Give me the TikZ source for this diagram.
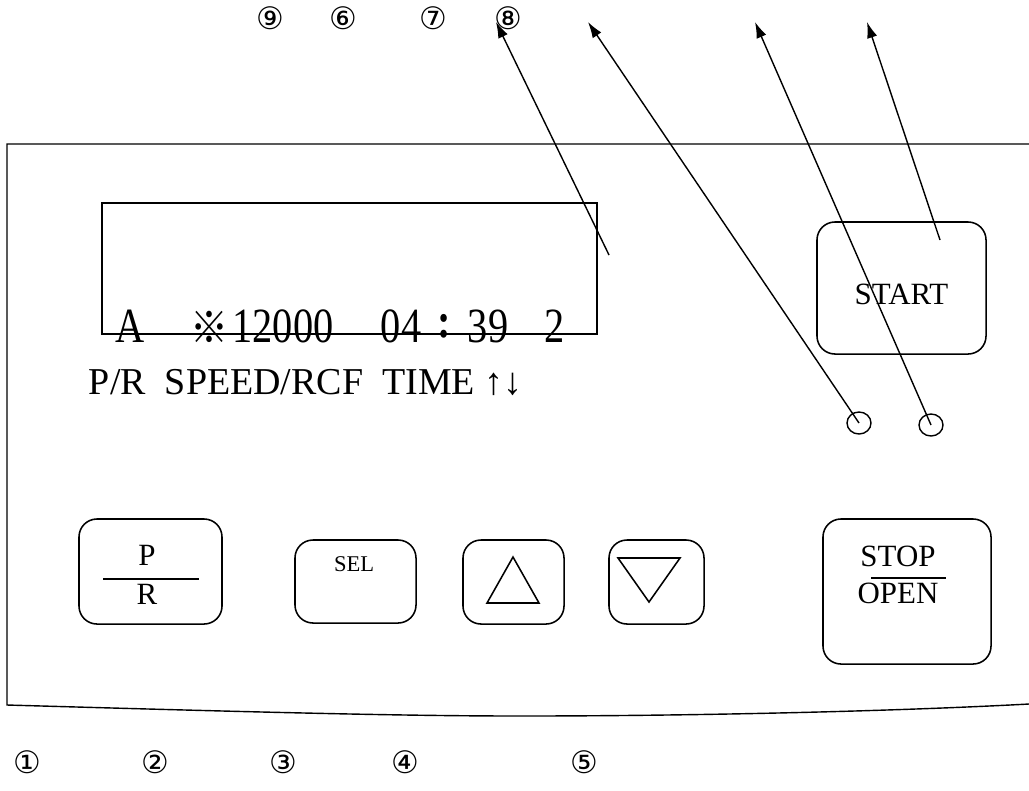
\documentclass[tikz,border=0pt]{standalone}
\usepackage{fontspec}
\setmainfont{Liberation Serif}
\newfontfamily\symfont{DejaVu Sans}
\newfontfamily\cjkfont{Noto Sans CJK JP}
\usetikzlibrary{arrows.meta,positioning,shapes.geometric}
\newcommand{\lcd}[1]{\scalebox{0.82}[1]{\fontsize{35}{35}\selectfont #1}}

\begin{document}
\begin{tikzpicture}[x=0.025cm, y=-0.025cm,
  key/.style={draw, line width=1.1pt, rounded corners=0.45cm, inner sep=0, font=\fontsize{22}{24}\selectfont},
  led/.style={draw, line width=1pt, ellipse, inner sep=0, minimum width=0.6cm, minimum height=0.55cm},
  num/.style={font=\symfont\fontsize{22}{22}\selectfont},
  arr/.style={-{Latex[length=4mm,width=2.6mm]}, line width=1pt}
]
\useasboundingbox (0,0) rectangle (1029,790);

% housing
\draw[line width=1pt] (1029,144) -- (7,144) -- (7,705)
  .. controls (250,712) and (400,716) .. (520,716)
  .. controls (700,716) and (900,711) .. (1029,704);

% display
\node[draw, line width=1.3pt, inner sep=0, minimum width=12.375cm, minimum height=3.275cm] (lcd) at (349.5,268.5) {};
\node (lcdA) at (130,326) {\lcd{A}};
\node (lcdmark) at (209,327) {\scalebox{1}[1.15]{\cjkfont\fontsize{27}{27}\selectfont ※}};
\node (lcdspeed) at (283,326) {\lcd{12000}};
\node (lcdmin) at (401,326) {\lcd{04}};
\node (lcdcolon) at (444,326) {\lcd{\textbf{:}}};
\node (lcdsec) at (488,326) {\lcd{39}};
\node (lcdstep) at (555,326) {\lcd{2}};
\node[font=\fontsize{27}{27}\selectfont, anchor=west] (legend) at (84,382) {P/R\ \ SPEED/RCF\ \ TIME ↑↓};

% keys
\node[key, minimum width=4.225cm, minimum height=3.3cm, text height=23pt, text depth=0pt] (startkey) at (901.5,288) {START};
\node[led] (led1) at (859,423) {};
\node[led] (led2) at (931,425) {};

\node[key, minimum width=3.575cm, minimum height=2.625cm] (prkey) at (150.5,571.5) {};
\node[font=\fontsize{22}{22}\selectfont] (prP) at (147,555) {P};
\node[font=\fontsize{22}{22}\selectfont] (prR) at (147,594) {R};
\draw[line width=1.1pt] (103,579) -- (199,579);

\node[key, minimum width=3.025cm, minimum height=2.075cm] (selkey) at (355.5,581.5) {};
\node[font=\fontsize{16}{16}\selectfont] (seltext) at (354,564) {SEL};

\node[key, minimum width=2.525cm, minimum height=2.1cm] (upkey) at (513.5,582) {};
\draw[line width=1.1pt] (513,557) -- (539,603) -- (487,603) -- cycle;

\node[key, minimum width=2.375cm, minimum height=2.1cm] (downkey) at (656.5,582) {};
\draw[line width=1.1pt] (618,558) -- (680,558) -- (649,602) -- cycle;

\node[key, minimum width=4.2cm, minimum height=3.625cm] (stopkey) at (907,591.5) {};
\node[font=\fontsize{22}{22}\selectfont] (stoptext) at (898,556) {STOP};
\node[font=\fontsize{22}{22}\selectfont] (opentext) at (898,593) {OPEN};
\draw[line width=1.1pt] (871,578) -- (946,578);

% pointer lines
\coordinate (lcdpt) at (609,255);
\coordinate (startpt) at (940,240);
\coordinate (tip8) at (496,22);
\coordinate (tipa) at (588,22);
\coordinate (tipb) at (755,22);
\coordinate (tipc) at (867,22);
\draw[arr] (lcdpt) -- (tip8);
\draw[arr] (led1.center) -- (tipa);
\draw[arr] (led2.center) -- (tipb);
\draw[arr] (startpt) -- (tipc);

% numbers
\node[num] (n9) at (270,18) {⑨};
\node[num] (n6) at (343,18) {⑥};
\node[num] (n7) at (433,18) {⑦};
\node[num] (n8) at (508,18) {⑧};
\node[num] (n1) at (27,762) {①};
\node[num] (n2) at (155,762) {②};
\node[num] (n3) at (283,762) {③};
\node[num] (n4) at (405,762) {④};
\node[num] (n5) at (584,762) {⑤};
\end{tikzpicture}
\end{document}
